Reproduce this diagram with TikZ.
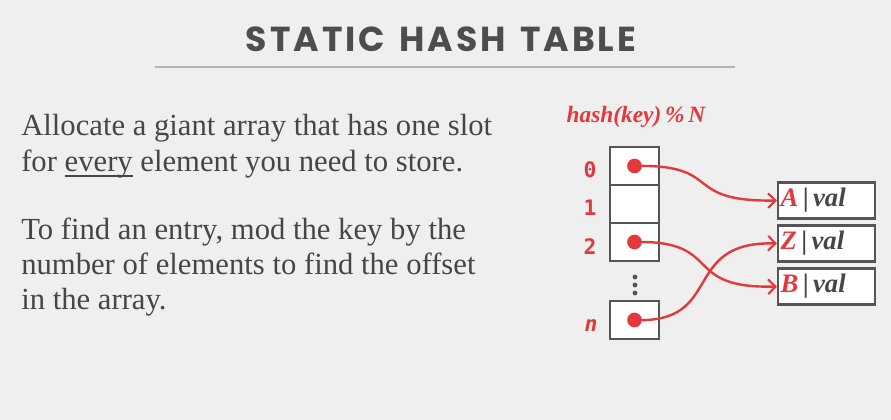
\documentclass[tikz,border=0pt]{standalone}
\usepackage{fontspec}
\setmainfont{Liberation Serif}
\newfontfamily\titlefont[LetterSpace=8.5,WordSpace=1.4]{Poppins}
\newfontfamily\codefont[BoldFont={DejaVu Sans Mono Bold},BoldItalicFont={DejaVu Sans Mono Bold Oblique}]{DejaVu Sans Mono}
\usetikzlibrary{arrows.meta}
\definecolor{bgcol}{HTML}{EFEFEF}
\definecolor{ink}{HTML}{464646}
\definecolor{titleink}{HTML}{4D4D4D}
\definecolor{rulecol}{HTML}{B4B4B4}
\definecolor{hred}{HTML}{E5383C}
\definecolor{boxcol}{HTML}{555555}
% underline drawn close to the baseline, through the descenders
\newcommand\lowrule[1]{\setbox0\hbox{#1}\rlap{\rule[-0.15em]{\wd0}{0.055em}}#1}
\tikzset{
  bodytext/.style={anchor=base west, inner sep=0pt, text=ink, font=\fontsize{23}{27}\selectfont},
  cell/.style={draw=boxcol, line width=1.6pt, fill=white, minimum width=36.75pt, minimum height=28.5pt, inner sep=0pt},
  entry/.style={draw=boxcol, line width=1.6pt, fill=white, minimum width=72.75pt, minimum height=27pt, inner sep=0pt},
  idx/.style={text=hred, inner sep=0pt, font=\codefont\bfseries\fontsize{16}{18}\selectfont},
  ptr/.style={circle, fill=hred, minimum size=11pt, inner sep=0pt},
  link/.style={draw=hred, line width=1.8pt, -{Straight Barb[length=5.5pt,width=11pt,line width=1.6pt]}},
  entrytext/.style={anchor=west, inner sep=0pt, font=\bfseries\itshape\fontsize{20}{22}\selectfont}
}
\begin{document}
\begin{tikzpicture}[x=0.75pt,y=-0.75pt]
  % page
  \fill[bgcol] (0,0) rectangle (891,420);
  \useasboundingbox (0,0) rectangle (891,420);

  % heading
  \node[anchor=base, inner sep=0pt, text=titleink, font=\titlefont\bfseries\fontsize{26}{30}\selectfont] (title) at (441,52) {STATIC HASH TABLE};
  \coordinate (ruleL) at (155,67);
  \coordinate (ruleR) at (735,67);
  \draw[rulecol, line width=1.6pt] (ruleL) -- (ruleR);

  % explanation
  \node[bodytext] (l1) at (21,136) {Allocate a giant array that has one slot};
  \node[bodytext] (l2) at (21,172) {for \lowrule{every} element you need to store.};
  \node[bodytext] (l3) at (21,239) {To find an entry, mod the key by the};
  \node[bodytext] (l4) at (21,274) {number of elements to find the offset};
  \node[bodytext] (l5) at (21,309) {in the array.};

  % hash function label
  \node[anchor=base, inner sep=0pt, text=hred, font=\bfseries\itshape\fontsize{17.5}{19}\selectfont] (hash) at (636,123) {hash(key)\,\%\,N};

  % slot array
  \node[cell] (c0) at (634.5,166) {};
  \node[cell] (c1) at (634.5,204) {};
  \node[cell] (c2) at (634.5,242) {};
  \node[cell] (cn) at (634.5,320) {};
  \foreach \yy [count=\k] in {277,285,293}
    \node[circle, fill=boxcol, minimum size=3.6pt, inner sep=0pt] (dot\k) at (635,\yy) {};

  % slot indices
  \node[idx] (i0) at (590,170) {0};
  \node[idx] (i1) at (590,208) {1};
  \node[idx] (i2) at (590,247) {2};
  \node[idx, font=\codefont\bfseries\itshape\fontsize{16}{18}\selectfont] (in) at (591,326) {n};

  % stored entries
  \node[entry] (eA) at (826.5,200.5) {};
  \node[entry] (eZ) at (826.5,243.5) {};
  \node[entry] (eB) at (826.5,286.5) {};
  \foreach \e/\k in {eA/A, eZ/Z, eB/B}
    \node[entrytext] (t\e) at ([xshift=2.5pt,yshift=0.5pt]\e.west) {\textcolor{hred}{\k}\,\textcolor{ink}{\textup{|}\,val}};

  % pointers
  \node[ptr] (p0) at (c0.center) {};
  \node[ptr] (p2) at (c2.center) {};
  \node[ptr] (pn) at (cn.center) {};
  \draw[link] (p0.center) .. controls (725,164) and (680,202) .. (eA.west);
  \draw[link] (p2.center) .. controls (725,240) and (680,289) .. (eB.west);
  \draw[link] (pn.center) .. controls (725,324) and (680,241) .. (eZ.west);
\end{tikzpicture}
\end{document}
